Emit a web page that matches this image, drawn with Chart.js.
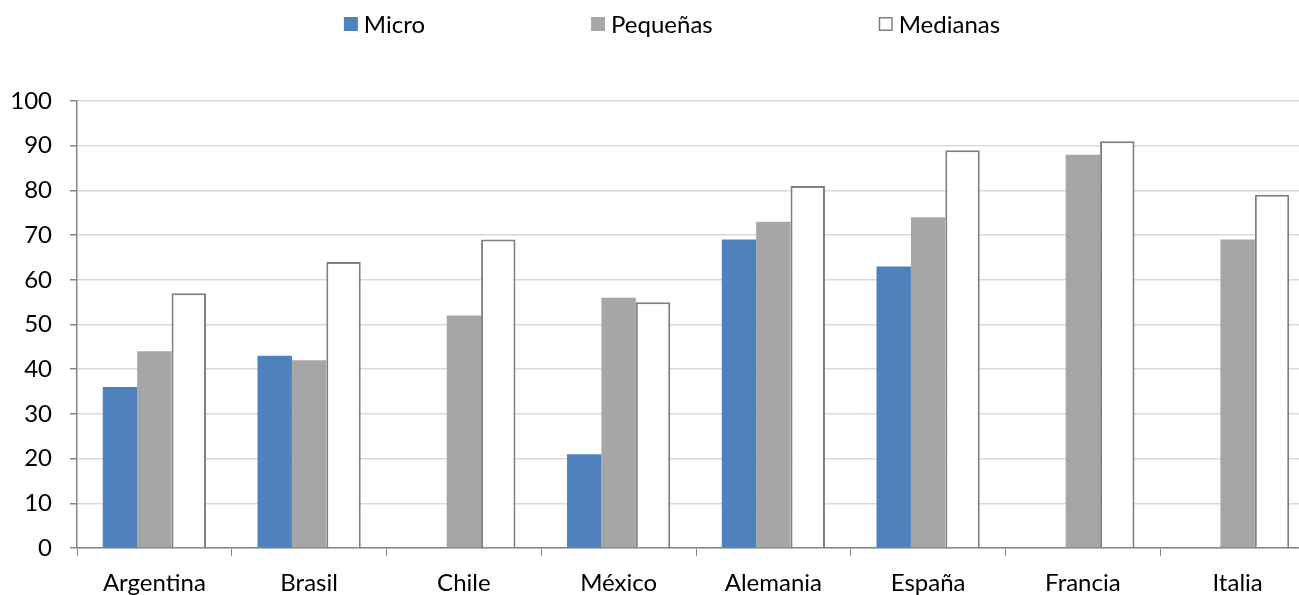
<!DOCTYPE html>
<html>
<head>
<meta charset="utf-8">
<script src="https://cdn.jsdelivr.net/npm/chart.js@4/dist/chart.umd.min.js"></script>
<style>
  html, body { margin: 0; padding: 0; background: #fff; overflow: hidden; }
  #wrap { width: 1316px; height: 595px; }
</style>
</head>
<body>
<div id="wrap"><canvas id="c" width="1316" height="595"></canvas></div>
<script>
const categories = ["Argentina", "Brasil", "Chile", "México", "Alemania", "España", "Francia", "Italia"];
const micro    = [36, 43, null, 21, 69, 63, null, null];
const pequenas = [44, 42, 52, 56, 73, 74, 88, 69];
const medianas = [57, 64, 69, 55, 81, 89, 91, 79];
const seriesNames = ["Micro", "Pequeñas", "Medianas"];
const yTicks = [0, 10, 20, 30, 40, 50, 60, 70, 80, 90, 100];

const FONT = "Lato, 'Open Sans', sans-serif";
const FS = 24;

const topLegend = {
  id: 'topLegend',
  afterDraw(chart) {
    const ctx = chart.ctx;
    const box = 14, gapText = 6, gapItem = 166, cy = 24, cx = 672;
    ctx.save();
    ctx.font = FS + "px " + FONT;
    const items = chart.data.datasets.map(ds => ({
      label: ds.label, fill: ds.backgroundColor, stroke: ds.borderColor, bw: ds.borderWidth,
      w: box + gapText + ctx.measureText(ds.label).width
    }));
    let total = items.reduce((s, it) => s + it.w, 0) + gapItem * (items.length - 1);
    let x = cx - total / 2;
    items.forEach(it => {
      ctx.fillStyle = it.fill;
      ctx.fillRect(x, cy - box / 2, box, box);
      if (it.bw) {
        ctx.strokeStyle = it.stroke;
        ctx.lineWidth = 1.5;
        ctx.strokeRect(x + 0.75, cy - box / 2 + 0.75, box - 1.5, box - 1.5);
      }
      ctx.fillStyle = '#000';
      ctx.textBaseline = 'middle';
      ctx.textAlign = 'left';
      ctx.fillText(it.label, x + box + gapText, cy + 1);
      x += it.w + gapItem;
    });
    ctx.restore();
  }
};

new Chart(document.getElementById('c'), {
  type: 'bar',
  data: {
    labels: categories,
    datasets: [
      { label: seriesNames[0], data: micro, backgroundColor: '#4f81bd', borderWidth: 0, borderColor: '#4f81bd' },
      { label: seriesNames[1], data: pequenas, backgroundColor: '#a6a6a6', borderWidth: 0, borderColor: '#a6a6a6' },
      { label: seriesNames[2], data: medianas, backgroundColor: '#ffffff', borderWidth: 2, borderColor: '#7f7f7f' }
    ]
  },
  plugins: [topLegend],
  options: {
    responsive: false,
    animation: false,
    devicePixelRatio: 1,
    layout: { padding: { top: 101, right: 1, left: 0, bottom: 0 } },
    datasets: { bar: { categoryPercentage: 0.667, barPercentage: 1.0 } },
    plugins: { legend: { display: false }, tooltip: { enabled: false } },
    scales: {
      x: {
        offset: true,
        grid: { display: true, offset: true, drawOnChartArea: false, drawTicks: true, tickLength: 8, tickColor: '#868686', color: '#868686' },
        border: { display: true, color: '#868686', width: 1.5 },
        ticks: { color: '#000', font: { family: FONT, size: FS }, padding: 13, maxRotation: 0, autoSkip: false },
        afterFit(s) { s.height = 47; }
      },
      y: {
        min: 0, max: 100,
        afterBuildTicks(s) { s.ticks = yTicks.map(v => ({ value: v })); },
        grid: { color: '#d9d9d9', lineWidth: 1.5, drawTicks: true, tickLength: 7, tickColor: '#868686' },
        border: { display: true, color: '#868686', width: 1.5 },
        ticks: { color: '#000', font: { family: FONT, size: FS }, padding: 18 },
        afterFit(s) { s.width = 77; }
      }
    }
  }
});
</script>
</body>
</html>
